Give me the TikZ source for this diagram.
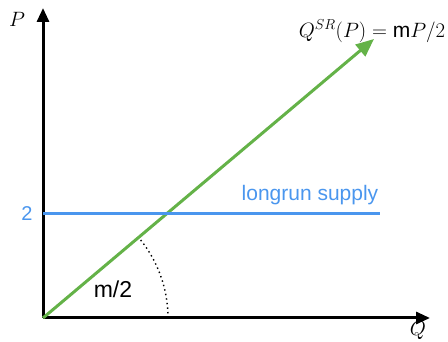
\documentclass[tikz,border=0pt]{standalone}
\usepackage{fontspec}
\newfontfamily\hv{Liberation Sans}
\usetikzlibrary{arrows.meta}
\definecolor{sgreen}{RGB}{100,178,72}
\definecolor{lblue}{RGB}{74,150,238}
\tikzset{
  axis/.style={line width=3pt, -{Triangle[length=14pt,width=12pt]}},
  curve/.style={line width=3pt, draw=sgreen},
  lr/.style={line width=3pt, draw=lblue},
  lbl/.style={inner sep=0pt}
}
\begin{document}
\begin{tikzpicture}[x=1pt,y=-1pt]
\useasboundingbox (0,0) rectangle (448,342);
\coordinate (O) at (43,318);
\coordinate (Ptop) at (43,8);
\coordinate (Qend) at (430,318);
\coordinate (Gend) at (374,39);
\coordinate (Ls) at (43,214);
\coordinate (Le) at (380,214);
\draw[axis] (O) -- (Ptop);
\draw[axis] (O) -- (Qend);
\draw[curve, -{Triangle[length=18pt,width=15pt]}] (O) -- (Gend);
\draw[lr] (Ls) -- (Le);
\draw[line width=1.4pt, dash pattern=on 1.4pt off 3.2pt] (168,318) arc[start angle=0, end angle=-40, radius=125];
\node[lbl, font=\fontsize{21}{21}\selectfont] (P) at (17,19) {$P$};
\node[lbl, font=\fontsize{21}{21}\selectfont] (Q) at (418,330) {$Q$};
\node[lbl, font=\fontsize{21}{21}\selectfont] (QSR) at (372,31) {$Q^{SR}(P)=\mbox{\hv m}P/2$};
\node[lbl, font=\hv\fontsize{21}{21}\selectfont, text=lblue] (lrs) at (310,195) {longrun supply};
\node[lbl, font=\hv\fontsize{20}{20}\selectfont, text=lblue] (two) at (27,214) {2};
\node[lbl, font=\hv\fontsize{23}{23}\selectfont] (m2) at (113,289) {m/2};
\end{tikzpicture}
\end{document}
